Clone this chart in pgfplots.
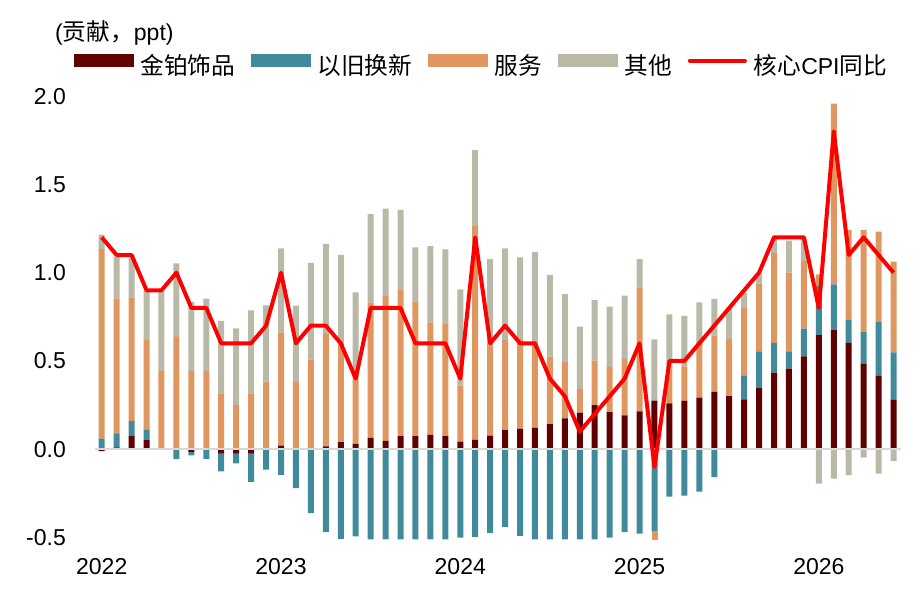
\documentclass[border=0pt]{standalone}
\usepackage{fontspec}
\setmainfont{Liberation Sans}
\newfontfamily\cjk[Scale=1.03]{Noto Sans CJK SC}
\usepackage{pgfplots}
\usepackage{pgfplotstable}
\pgfplotsset{compat=1.18}
\definecolor{cgold}{RGB}{96,0,0}
\definecolor{cteal}{RGB}{64,138,156}
\definecolor{cserv}{RGB}{222,151,96}
\definecolor{coth}{RGB}{186,184,166}
\definecolor{czero}{RGB}{217,217,217}
\definecolor{cline}{RGB}{255,0,0}
\newcommand{\bigfont}{\fontsize{23}{27}\selectfont}
% x: month index (0 = 2022-01); g gold, t trade-in, s services, o other, c core CPI yoy
\pgfplotstableread{
x g t s o c
0 -0.010 0.060 1.075 0.080 1.2
1 0.010 0.080 0.764 0.236 1.1
2 0.075 0.085 0.700 0.225 1.1
3 0.055 0.055 0.510 0.277 0.9
4 0.000 0.000 0.443 0.453 0.9
5 0.000 -0.055 0.636 0.417 1.0
6 -0.015 -0.020 0.443 0.390 0.8
7 0.000 -0.055 0.443 0.410 0.8
8 -0.025 -0.100 0.317 0.410 0.6
9 -0.025 -0.055 0.250 0.434 0.6
10 -0.025 -0.160 0.317 0.470 0.6
11 0.000 -0.115 0.383 0.432 0.7
12 0.020 -0.145 0.642 0.475 1.0
13 0.000 -0.220 0.380 0.434 0.6
14 0.000 -0.362 0.508 0.547 0.7
15 0.017 -0.470 0.636 0.510 0.7
16 0.040 -0.508 0.565 0.496 0.6
17 0.030 -0.494 0.370 0.489 0.4
18 0.064 -0.510 0.768 0.500 0.8
19 0.047 -0.510 0.825 0.490 0.8
20 0.074 -0.510 0.828 0.453 0.8
21 0.075 -0.510 0.762 0.306 0.6
22 0.081 -0.510 0.638 0.432 0.6
23 0.075 -0.510 0.634 0.423 0.6
24 0.043 -0.500 0.317 0.545 0.4
25 0.053 -0.498 1.211 0.430 1.2
26 0.077 -0.475 0.520 0.480 0.6
27 0.108 -0.440 0.511 0.519 0.7
28 0.115 -0.490 0.508 0.464 0.6
29 0.123 -0.510 0.467 0.528 0.6
30 0.142 -0.510 0.383 0.462 0.4
31 0.175 -0.510 0.320 0.383 0.3
32 0.208 -0.510 0.132 0.355 0.1
33 0.250 -0.510 0.252 0.343 0.2
34 0.210 -0.500 0.256 0.342 0.3
35 0.192 -0.470 0.318 0.360 0.4
36 0.215 -0.478 0.700 0.162 0.6
37 0.276 -0.466 -0.050 0.346 -0.1
38 0.260 -0.268 0.195 0.309 0.5
39 0.274 -0.262 0.196 0.285 0.5
40 0.292 -0.240 0.323 0.217 0.6
41 0.325 -0.158 0.318 0.208 0.7
42 0.301 0.000 0.323 0.180 0.8
43 0.283 0.136 0.381 0.087 0.9
44 0.349 0.206 0.383 0.056 1.0
45 0.434 0.168 0.509 0.080 1.2
46 0.457 0.098 0.445 0.181 1.2
47 0.526 0.157 0.383 0.124 1.2
48 0.647 0.278 0.066 -0.194 0.8
49 0.675 0.259 1.023 -0.166 1.8
50 0.602 0.130 0.511 -0.147 1.1
51 0.483 0.181 0.578 -0.047 1.2
52 0.415 0.306 0.511 -0.138 1.1
53 0.279 0.270 0.513 -0.066 1.0
}\data
\pgfplotsset{
  base/.style={
    at={(95pt,52.8pt)}, anchor=south west, scale only axis,
    width=806pt, height=444.1pt,
    xmin=-0.45, xmax=53.5, ymin=-0.515, ymax=2.0,
  },
}
\begin{document}
\begin{tikzpicture}
\path[use as bounding box] (0,0) rectangle (921pt,593pt);
% positive parts
\begin{axis}[base,
  ybar stacked, bar width=6pt,
  axis line style={draw=none}, tick style={draw=none},
  ytick={-0.5,0,0.5,1,1.5,2}, yticklabels={-0.5,0.0,0.5,1.0,1.5,2.0},
  xtick={0,12,24,36,48}, xticklabels={2022,2023,2024,2025,2026},
  tick label style={font=\bigfont},
  yticklabel style={anchor=east, inner sep=0pt, xshift=-29pt},
  xticklabel style={anchor=base, inner sep=0pt, yshift=-34.3pt},
]
\addplot[fill=cgold, draw=none] table[x=x, y expr={max(\thisrow{g},0)}] {\data};
\addplot[fill=cteal, draw=none] table[x=x, y expr={max(\thisrow{t},0)}] {\data};
\addplot[fill=cserv, draw=none] table[x=x, y expr={max(\thisrow{s},0)}] {\data};
\addplot[fill=coth, draw=none] table[x=x, y expr={max(\thisrow{o},0)}] {\data};
\end{axis}
% negative parts
\begin{axis}[base, hide axis, ybar stacked, bar width=6pt]
\addplot[fill=cgold, draw=none] table[x=x, y expr={min(\thisrow{g},0)}] {\data};
\addplot[fill=cteal, draw=none] table[x=x, y expr={min(\thisrow{t},0)}] {\data};
\addplot[fill=cserv, draw=none] table[x=x, y expr={min(\thisrow{s},0)}] {\data};
\addplot[fill=coth, draw=none] table[x=x, y expr={min(\thisrow{o},0)}] {\data};
\end{axis}
% zero line, core CPI, legend
\begin{axis}[base, hide axis, name=c,
  legend columns=5,
  legend style={at={(0,1)}, anchor=west, xshift=-21pt, yshift=30.8pt,
    draw=none, fill=none, inner sep=0pt, outer sep=0pt, font=\bigfont,
    nodes={inner sep=0pt},
    /tikz/every odd column/.append style={column sep=7pt},
    /tikz/every even column/.append style={column sep=16pt}},
]
\addplot[czero, line width=2pt, forget plot] coordinates {(-0.45,0) (53.5,0)};
\addlegendimage{legend image code/.code={\fill[cgold] (0pt,-1.3pt) rectangle (59pt,10.7pt);}}
\addlegendentry{{\cjk 金铂饰品}}
\addlegendimage{legend image code/.code={\fill[cteal] (0pt,-1.3pt) rectangle (59pt,10.7pt);}}
\addlegendentry{{\cjk 以旧换新}}
\addlegendimage{legend image code/.code={\fill[cserv] (0pt,-1.3pt) rectangle (59pt,10.7pt);}}
\addlegendentry{{\cjk 服务}}
\addlegendimage{legend image code/.code={\fill[coth] (0pt,-1.3pt) rectangle (59pt,10.7pt);}}
\addlegendentry{{\cjk 其他}}
\addplot[cline, line width=4pt, line join=round,
  legend image code/.code={\draw[cline, line width=4pt, line cap=round] (2pt,4.7pt) -- (57pt,4.7pt);}]
  table[x=x, y=c] {\data};
\addlegendentry{{\cjk 核心}CPI{\cjk 同比}}
\end{axis}
\node[anchor=west, inner sep=0pt, font=\bigfont] at ([xshift=-40pt, yshift=63pt]c.north west) {({\cjk 贡献，}ppt)};
\end{tikzpicture}
\end{document}
